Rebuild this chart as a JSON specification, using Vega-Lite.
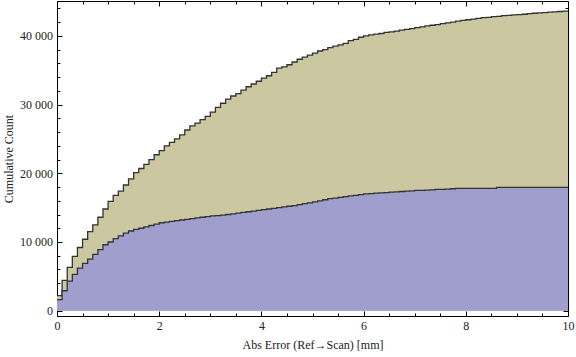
{
  "$schema": "https://vega.github.io/schema/vega-lite/v6.json",
  "width": 511,
  "height": 315,
  "autosize": {"type": "none"},
  "padding": {"left": 57, "top": 1, "right": 8, "bottom": 41},
  "config": {
    "view": {"stroke": "#000000", "strokeWidth": 1},
    "font": "Liberation Serif",
    "axis": {"domain": false, "grid": false, "tickColor": "#000000", "tickWidth": 1, "labelFont": "Liberation Serif", "labelFontSize": 12, "labelColor": "#222222", "titleFont": "Liberation Serif", "titleFontSize": 12, "titleFontWeight": "normal", "titleColor": "#222222", "labelOverlap": false, "labelFlush": false}
  },
  "data": {
    "values": [
      {"x": 0.0, "total": 2200, "sub": 1600},
      {"x": 0.1, "total": 4400, "sub": 2900},
      {"x": 0.2, "total": 6300, "sub": 4300},
      {"x": 0.3, "total": 7900, "sub": 5300},
      {"x": 0.4, "total": 9200, "sub": 6200},
      {"x": 0.5, "total": 10400, "sub": 6900},
      {"x": 0.6, "total": 11500, "sub": 7500},
      {"x": 0.7, "total": 12500, "sub": 8200},
      {"x": 0.8, "total": 13600, "sub": 8900},
      {"x": 0.9, "total": 14800, "sub": 9600},
      {"x": 1.0, "total": 15900, "sub": 10000},
      {"x": 1.1, "total": 16800, "sub": 10500},
      {"x": 1.2, "total": 17400, "sub": 10900},
      {"x": 1.3, "total": 18300, "sub": 11300},
      {"x": 1.4, "total": 19200, "sub": 11600},
      {"x": 1.5, "total": 20100, "sub": 11850},
      {"x": 1.6, "total": 20700, "sub": 12000},
      {"x": 1.7, "total": 21300, "sub": 12200},
      {"x": 1.8, "total": 22000, "sub": 12400},
      {"x": 1.9, "total": 22700, "sub": 12600},
      {"x": 2.0, "total": 23300, "sub": 12800},
      {"x": 2.1, "total": 24000, "sub": 12900},
      {"x": 2.2, "total": 24500, "sub": 13000},
      {"x": 2.3, "total": 25000, "sub": 13100},
      {"x": 2.4, "total": 25600, "sub": 13200},
      {"x": 2.5, "total": 26300, "sub": 13300},
      {"x": 2.6, "total": 26900, "sub": 13400},
      {"x": 2.7, "total": 27300, "sub": 13500},
      {"x": 2.8, "total": 27800, "sub": 13600},
      {"x": 2.9, "total": 28300, "sub": 13700},
      {"x": 3.0, "total": 28900, "sub": 13800},
      {"x": 3.1, "total": 29600, "sub": 13850},
      {"x": 3.2, "total": 30200, "sub": 13900},
      {"x": 3.3, "total": 30800, "sub": 14000},
      {"x": 3.4, "total": 31250, "sub": 14100},
      {"x": 3.5, "total": 31600, "sub": 14200},
      {"x": 3.6, "total": 32100, "sub": 14300},
      {"x": 3.7, "total": 32600, "sub": 14400},
      {"x": 3.8, "total": 33000, "sub": 14500},
      {"x": 3.9, "total": 33400, "sub": 14600},
      {"x": 4.0, "total": 33850, "sub": 14700},
      {"x": 4.1, "total": 34200, "sub": 14800},
      {"x": 4.2, "total": 34700, "sub": 14900},
      {"x": 4.3, "total": 35300, "sub": 15000},
      {"x": 4.4, "total": 35500, "sub": 15100},
      {"x": 4.5, "total": 35800, "sub": 15200},
      {"x": 4.6, "total": 36200, "sub": 15300},
      {"x": 4.7, "total": 36600, "sub": 15450},
      {"x": 4.8, "total": 36900, "sub": 15600},
      {"x": 4.9, "total": 37200, "sub": 15700},
      {"x": 5.0, "total": 37500, "sub": 15850},
      {"x": 5.1, "total": 37800, "sub": 16000},
      {"x": 5.2, "total": 38000, "sub": 16150},
      {"x": 5.3, "total": 38300, "sub": 16300},
      {"x": 5.4, "total": 38500, "sub": 16400},
      {"x": 5.5, "total": 38700, "sub": 16500},
      {"x": 5.6, "total": 38900, "sub": 16600},
      {"x": 5.7, "total": 39300, "sub": 16700},
      {"x": 5.8, "total": 39500, "sub": 16800},
      {"x": 5.9, "total": 39800, "sub": 16900},
      {"x": 6.0, "total": 40000, "sub": 17000},
      {"x": 6.1, "total": 40150, "sub": 17050},
      {"x": 6.2, "total": 40250, "sub": 17100},
      {"x": 6.3, "total": 40350, "sub": 17150},
      {"x": 6.4, "total": 40500, "sub": 17200},
      {"x": 6.5, "total": 40600, "sub": 17250},
      {"x": 6.6, "total": 40700, "sub": 17300},
      {"x": 6.7, "total": 40850, "sub": 17350},
      {"x": 6.8, "total": 40950, "sub": 17400},
      {"x": 6.9, "total": 41050, "sub": 17450},
      {"x": 7.0, "total": 41200, "sub": 17500},
      {"x": 7.1, "total": 41300, "sub": 17500},
      {"x": 7.2, "total": 41450, "sub": 17550},
      {"x": 7.3, "total": 41550, "sub": 17600},
      {"x": 7.4, "total": 41650, "sub": 17650},
      {"x": 7.5, "total": 41800, "sub": 17650},
      {"x": 7.6, "total": 41900, "sub": 17700},
      {"x": 7.7, "total": 42000, "sub": 17750},
      {"x": 7.8, "total": 42150, "sub": 17800},
      {"x": 7.9, "total": 42250, "sub": 17800},
      {"x": 8.0, "total": 42350, "sub": 17800},
      {"x": 8.1, "total": 42450, "sub": 17800},
      {"x": 8.2, "total": 42550, "sub": 17800},
      {"x": 8.3, "total": 42650, "sub": 17800},
      {"x": 8.4, "total": 42700, "sub": 17800},
      {"x": 8.5, "total": 42800, "sub": 17800},
      {"x": 8.6, "total": 42850, "sub": 17950},
      {"x": 8.7, "total": 42950, "sub": 17950},
      {"x": 8.8, "total": 43000, "sub": 17950},
      {"x": 8.9, "total": 43050, "sub": 17950},
      {"x": 9.0, "total": 43100, "sub": 17950},
      {"x": 9.1, "total": 43150, "sub": 17950},
      {"x": 9.2, "total": 43250, "sub": 17950},
      {"x": 9.3, "total": 43300, "sub": 17950},
      {"x": 9.4, "total": 43350, "sub": 17950},
      {"x": 9.5, "total": 43400, "sub": 17950},
      {"x": 9.6, "total": 43450, "sub": 17950},
      {"x": 9.7, "total": 43500, "sub": 17950},
      {"x": 9.8, "total": 43550, "sub": 17950},
      {"x": 9.9, "total": 43600, "sub": 17950},
      {"x": 10.0, "total": 43600, "sub": 17950}
    ]
  },
  "resolve": {"axis": {"x": "independent", "y": "independent"}},
  "layer": [
    {
      "mark": {"type": "area", "interpolate": "step-after", "color": "#CBC7A0", "opacity": 1},
      "encoding": {
        "x": {
          "field": "x", "type": "quantitative",
          "scale": {"domain": [0, 10], "nice": false, "zero": false},
          "axis": {
            "orient": "bottom",
            "title": "Abs Error (Ref\u2192Scan) [mm]",
            "values": [0, 0.5, 1, 1.5, 2, 2.5, 3, 3.5, 4, 4.5, 5, 5.5, 6, 6.5, 7, 7.5, 8, 8.5, 9, 9.5, 10],
            "labelExpr": "datum.value % 2 === 0 ? format(datum.value, 'd') : ''",
            "tickSize": {"condition": {"test": "datum.value % 2 === 0", "value": -5}, "value": -3},
            "labelPadding": 9,
            "titlePadding": 6
          }
        },
        "y": {
          "field": "total", "type": "quantitative",
          "scale": {"domain": [-772, 45080], "nice": false, "zero": false},
          "axis": {
            "orient": "left",
            "title": "Cumulative Count",
            "values": [0, 2000, 4000, 6000, 8000, 10000, 12000, 14000, 16000, 18000, 20000, 22000, 24000, 26000, 28000, 30000, 32000, 34000, 36000, 38000, 40000, 42000, 44000],
            "labelExpr": "datum.value % 10000 === 0 ? replace(format(datum.value, ','), ',', ' ') : ''",
            "tickSize": {"condition": {"test": "datum.value % 10000 === 0", "value": -5}, "value": -3},
            "labelPadding": 9.5,
            "titlePadding": 4
          }
        }
      }
    },
    {
      "mark": {"type": "line", "interpolate": "step-after", "color": "#333333", "strokeWidth": 1.3},
      "encoding": {
        "x": {
          "field": "x", "type": "quantitative",
          "scale": {"domain": [0, 10], "nice": false, "zero": false},
          "axis": {
            "orient": "top", "title": null, "labels": false,
            "values": [0, 0.5, 1, 1.5, 2, 2.5, 3, 3.5, 4, 4.5, 5, 5.5, 6, 6.5, 7, 7.5, 8, 8.5, 9, 9.5, 10],
            "tickSize": {"condition": {"test": "datum.value % 2 === 0", "value": -5}, "value": -3}
          }
        },
        "y": {
          "field": "total", "type": "quantitative",
          "scale": {"domain": [-772, 45080], "nice": false, "zero": false},
          "axis": {
            "orient": "right", "title": null, "labels": false,
            "values": [0, 2000, 4000, 6000, 8000, 10000, 12000, 14000, 16000, 18000, 20000, 22000, 24000, 26000, 28000, 30000, 32000, 34000, 36000, 38000, 40000, 42000, 44000],
            "tickSize": {"condition": {"test": "datum.value % 10000 === 0", "value": -5}, "value": -3}
          }
        }
      }
    },
    {
      "mark": {"type": "area", "interpolate": "step-after", "color": "#A09ECC", "opacity": 1},
      "encoding": {
        "x": {"field": "x", "type": "quantitative", "axis": null},
        "y": {"field": "sub", "type": "quantitative", "axis": null}
      }
    },
    {
      "mark": {"type": "line", "interpolate": "step-after", "color": "#333333", "strokeWidth": 1.3},
      "encoding": {
        "x": {"field": "x", "type": "quantitative", "axis": null},
        "y": {"field": "sub", "type": "quantitative", "axis": null}
      }
    }
  ]
}
